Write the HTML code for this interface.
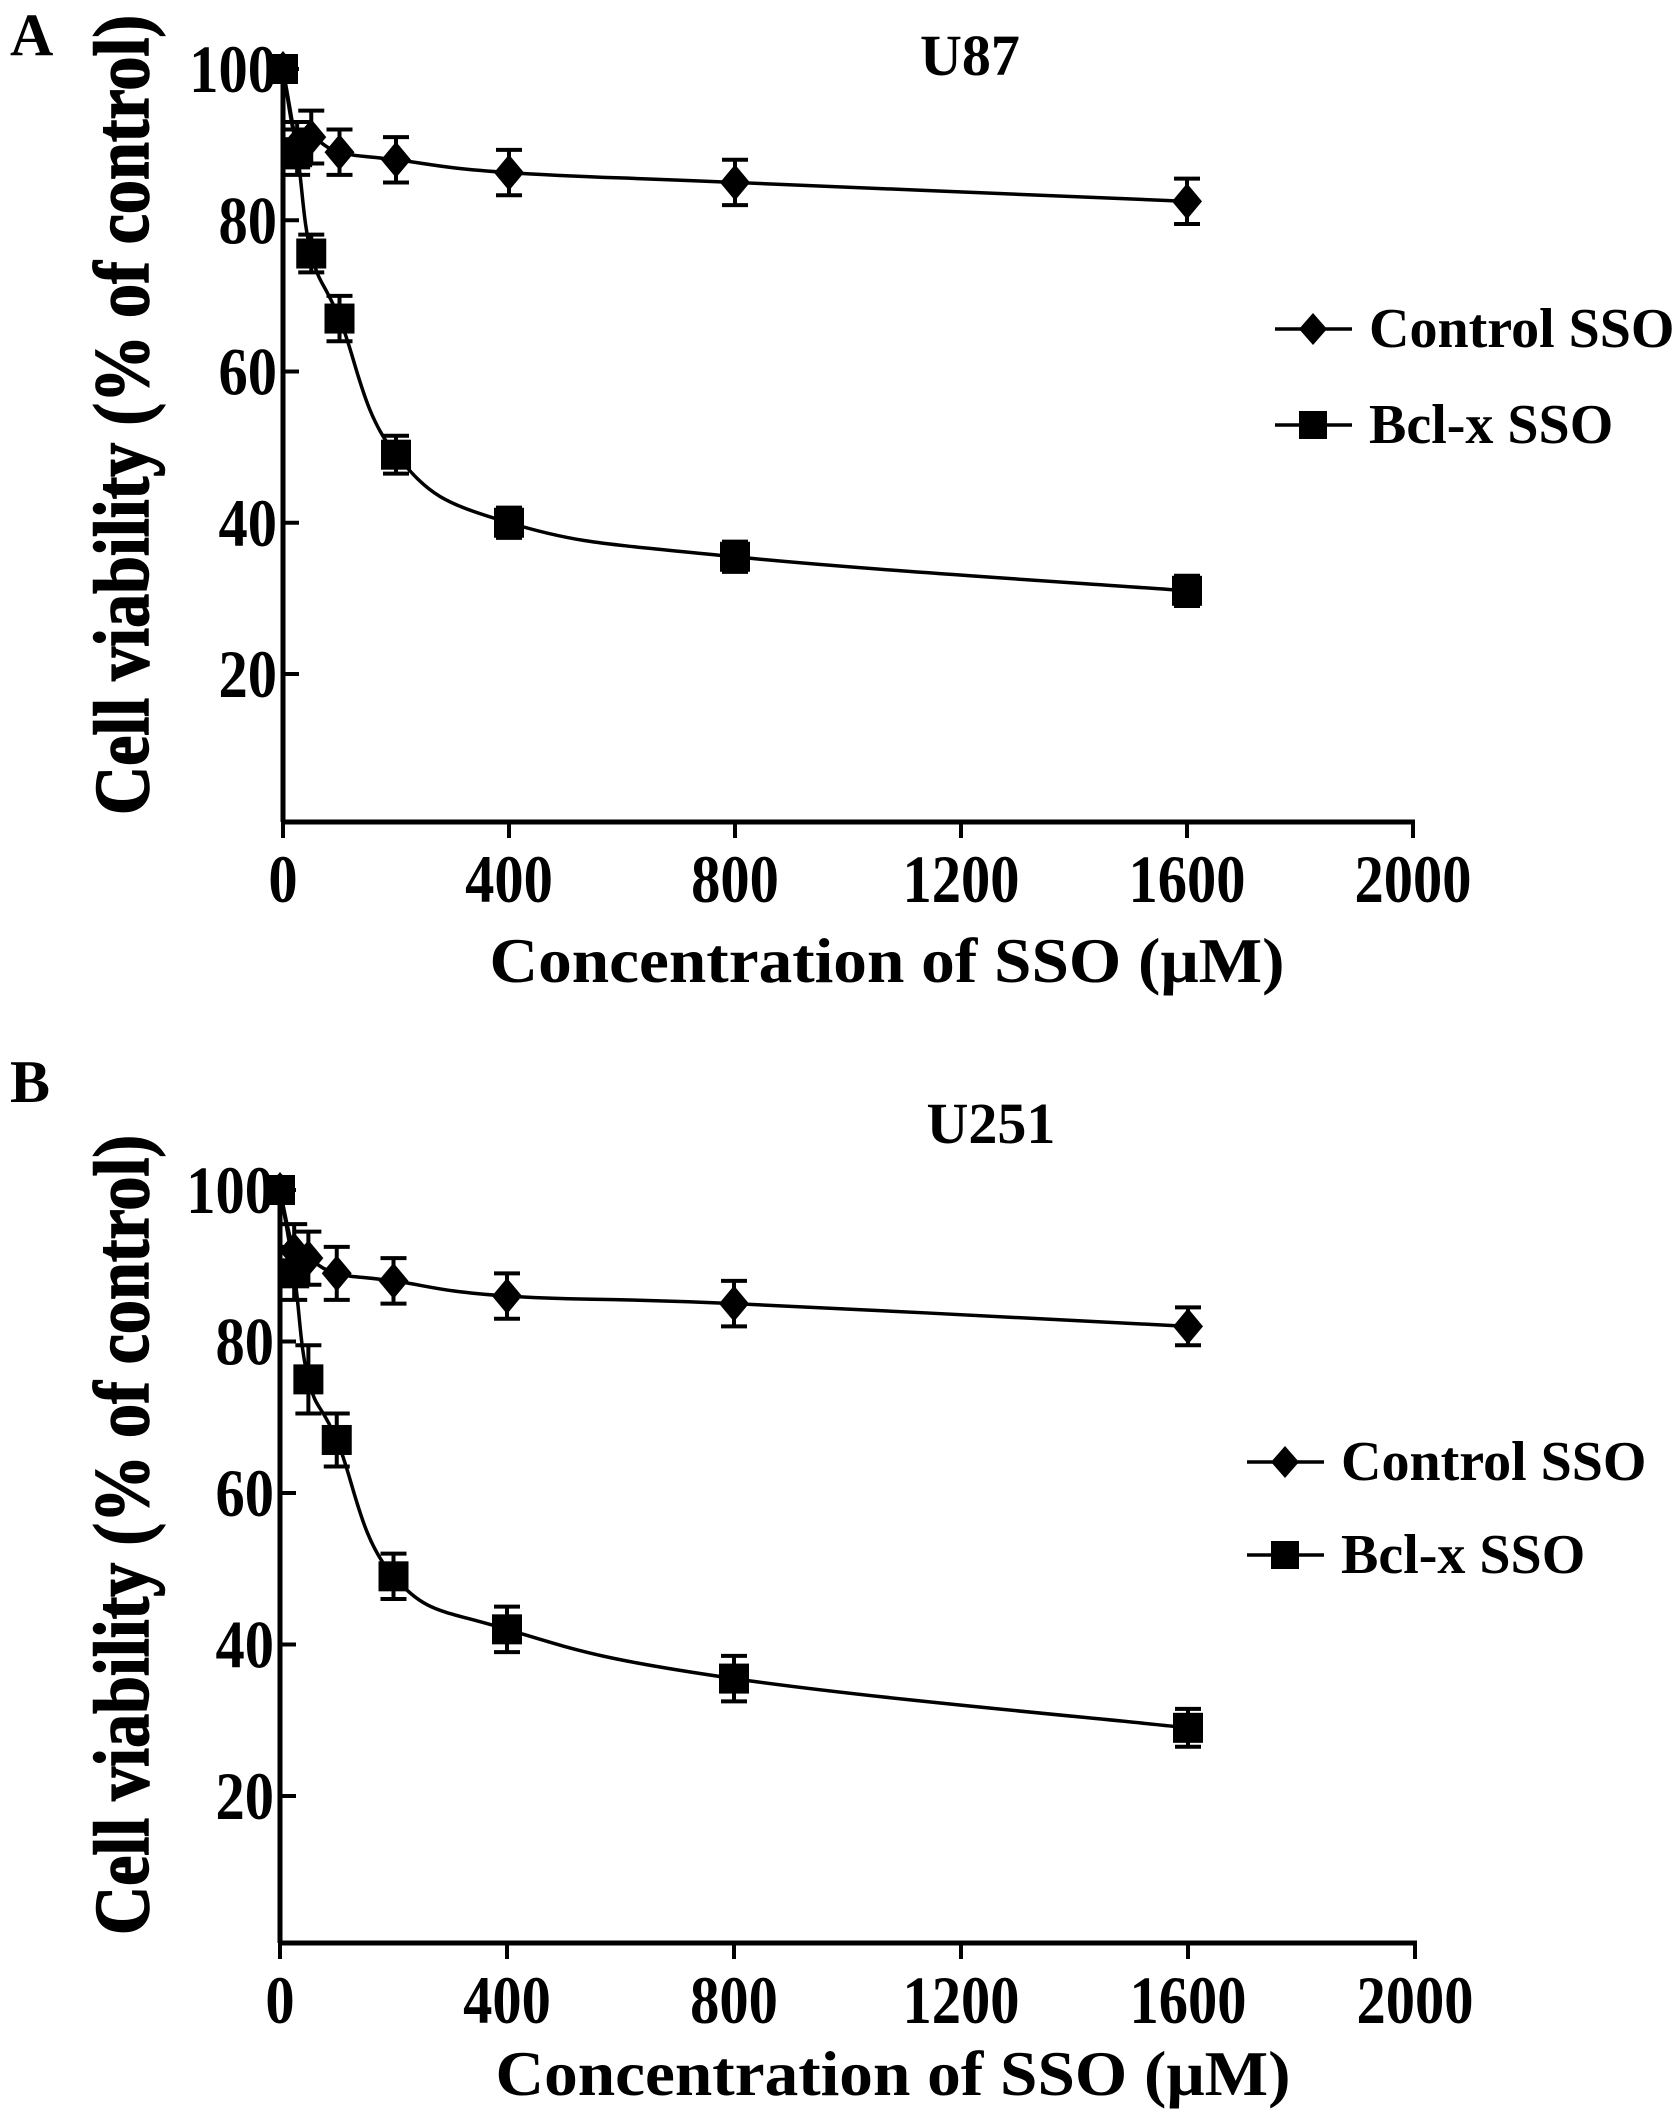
<!DOCTYPE html>
<html><head><meta charset="utf-8"><style>
html,body{margin:0;padding:0;background:#fff;}
svg{display:block;}
text{font-family:"Liberation Serif",serif;font-weight:bold;fill:#000;}
</style></head><body>
<svg id="fig" width="1677" height="2121" viewBox="0 0 1677 2121">
<text x="10" y="55" font-size="60">A</text>
<text x="10" y="1102" font-size="60">B</text>
</svg>
<script>
const xCats = [0, 25, 50, 100, 200, 400, 800, 1600];
const xTicks = [0, 400, 800, 1200, 1600, 2000];
const yTicks = [20, 40, 60, 80, 100];
const u87Control = [100, 90, 91, 89, 88, 86.3, 85, 82.5];
const u87ControlErr = [0, 3, 3.5, 3, 3, 3, 3, 3];
const u87Bcl = [100, 89, 75.6, 67, 49, 40, 35.5, 31];
const u87BclErr = [0, 3, 2.5, 3, 2.5, 2, 2, 2];
const u251Control = [100, 92, 91, 89, 88, 86, 85, 82];
const u251ControlErr = [0, 3.5, 3.5, 3.5, 3, 3, 3, 2.5];
const u251Bcl = [100, 89, 75, 67, 49, 42, 35.5, 29];
const u251BclErr = [0, 3.5, 4.5, 3.5, 3, 3, 3, 2.5];

const NS = "http://www.w3.org/2000/svg";
const svg = document.getElementById('fig');
function mk(tag, attrs, parent) {
  const e = document.createElementNS(NS, tag);
  for (const k in attrs) e.setAttribute(k, attrs[k]);
  (parent || svg).appendChild(e);
  return e;
}
function smoothPath(pts) {
  let d = `M${pts[0][0]},${pts[0][1]}`;
  for (let i = 0; i < pts.length - 1; i++) {
    const p0 = pts[Math.max(0, i - 1)], p1 = pts[i], p2 = pts[i + 1], p3 = pts[Math.min(pts.length - 1, i + 2)];
    const t = 0.2;
    const c1x = p1[0] + (p2[0] - p0[0]) * t, c1y = p1[1] + (p2[1] - p0[1]) * t;
    const c2x = p2[0] - (p3[0] - p1[0]) * t, c2y = p2[1] - (p3[1] - p1[1]) * t;
    d += ` C${c1x},${c1y} ${c2x},${c2y} ${p2[0]},${p2[1]}`;
  }
  return d;
}
function panel(cfg) {
  const g = mk('g', {});
  
  
  const xs = v => cfg.x0 + (v / 2000) * (cfg.x2000 - cfg.x0);
  const ys = v => cfg.y100 + (100 - v) / 80 * (cfg.y20 - cfg.y100);
  const ya = mk('line', {x1: cfg.x0, y1: cfg.y100 - 8, x2: cfg.x0, y2: cfg.axisY, stroke: '#000', 'stroke-width': 5}, g);
  
  
  const xa = mk('line', {x1: cfg.x0 - 2, y1: cfg.axisY, x2: cfg.x2000 + 2, y2: cfg.axisY, stroke: '#000', 'stroke-width': 5}, g);
  
  
  xTicks.forEach(v => {
    mk('line', {x1: xs(v), y1: cfg.axisY, x2: xs(v), y2: cfg.axisY + 16, stroke: '#000', 'stroke-width': 4}, g);
    const t = mk('text', {x: 0, y: 0, 'font-size': 68, 'text-anchor': 'middle', transform: `translate(${xs(v)},${cfg.axisY + 80}) scale(0.86,1)`}, g);
    t.textContent = v;
    
    
  });
  yTicks.forEach(v => {
    mk('line', {x1: cfg.x0, y1: ys(v), x2: cfg.x0 + 16, y2: ys(v), stroke: '#000', 'stroke-width': 4}, g);
    const t = mk('text', {x: 0, y: 0, 'font-size': 68, 'text-anchor': 'end', transform: `translate(${cfg.x0 - 6},${ys(v) + 23}) scale(0.86,1)`}, g);
    t.textContent = v;
    
    
  });
  const yt = mk('text', {x: 0, y: 0, 'font-size': 78, 'text-anchor': 'middle', textLength: 800, lengthAdjust: 'spacingAndGlyphs', stroke: '#000', 'stroke-width': 1.5, transform: `translate(${cfg.yTitleX},${cfg.yTitleY}) rotate(-90)`}, g);
  yt.textContent = 'Cell viability (% of control)';
  
  
  const xt = mk('text', {x: cfg.xTitleX, y: cfg.xTitleY, 'font-size': 64, 'text-anchor': 'middle', textLength: 795, lengthAdjust: 'spacingAndGlyphs'}, g);
  xt.textContent = 'Concentration of SSO (\u03bcM)';
  
  
  const tt = mk('text', {x: cfg.titleX, y: cfg.titleY, 'font-size': 58, 'text-anchor': 'middle'}, g);
  tt.textContent = cfg.title;
  
  
  const series = [
    {vals: cfg.ctrl, err: cfg.ctrlErr, shape: 'diamond', name: 'control-sso'},
    {vals: cfg.bcl, err: cfg.bclErr, shape: 'square', name: 'bcl-x-sso'}
  ];
  series.forEach(s => {
    const sg = mk('g', {}, g);
    
    
    const pts = xCats.map((c, i) => [xs(c), ys(s.vals[i])]);
    const ln = mk('path', {d: smoothPath(pts), fill: 'none', stroke: '#000', 'stroke-width': 3.5}, sg);
    
    
    xCats.forEach((c, i) => {
      const x = xs(c), y = ys(s.vals[i]);
      if (s.err[i] > 0) {
        const yt2 = ys(s.vals[i] + s.err[i]), yb = ys(s.vals[i] - s.err[i]);
        mk('path', {d: `M${x},${yt2}V${yb}M${x - 13},${yt2}H${x + 13}M${x - 13},${yb}H${x + 13}`, stroke: '#000', 'stroke-width': 4, fill: 'none'}, sg);
      }
      let m;
      if (s.shape === 'square') m = mk('rect', {x: x - 15, y: y - 15, width: 30, height: 30, fill: '#000'}, sg);
      else m = mk('path', {d: `M${x},${y - 18}L${x + 15},${y}L${x},${y + 18}L${x - 15},${y}Z`, fill: '#000'}, sg);
      
      
    });
  });
  const lg = mk('g', {}, g);
  
  
  [['Control SSO', 'diamond', cfg.legY1], ['Bcl-x SSO', 'square', cfg.legY2]].forEach(([lab, sh, ly]) => {
    const eg = mk('g', {}, lg);
    
    
    mk('line', {x1: cfg.legX, y1: ly, x2: cfg.legX + 77, y2: ly, stroke: '#000', 'stroke-width': 3.5}, eg);
    const cx = cfg.legX + 38;
    if (sh === 'square') mk('rect', {x: cx - 14, y: ly - 14, width: 28, height: 28, fill: '#000'}, eg);
    else mk('path', {d: `M${cx},${ly - 16}L${cx + 14},${ly}L${cx},${ly + 16}L${cx - 14},${ly}Z`, fill: '#000'}, eg);
    const t = mk('text', {x: cfg.legX + 94, y: ly + 18, 'font-size': 56}, eg);
    t.textContent = lab;
  });
}
panel({name: 'chart-u87', title: 'U87', x0: 283, x2000: 1413, y100: 69, y20: 674, axisY: 822,
  ctrl: u87Control, ctrlErr: u87ControlErr, bcl: u87Bcl, bclErr: u87BclErr,
  yTitleX: 148, yTitleY: 415, xTitleX: 887, xTitleY: 982, titleX: 970, titleY: 75,
  legX: 1275, legY1: 329, legY2: 425});
panel({name: 'chart-u251', title: 'U251', x0: 280, x2000: 1415, y100: 1190, y20: 1796, axisY: 1943,
  ctrl: u251Control, ctrlErr: u251ControlErr, bcl: u251Bcl, bclErr: u251BclErr,
  yTitleX: 148, yTitleY: 1535, xTitleX: 893, xTitleY: 2095, titleX: 991, titleY: 1143,
  legX: 1247, legY1: 1462, legY2: 1555});
</script>
</body></html>
